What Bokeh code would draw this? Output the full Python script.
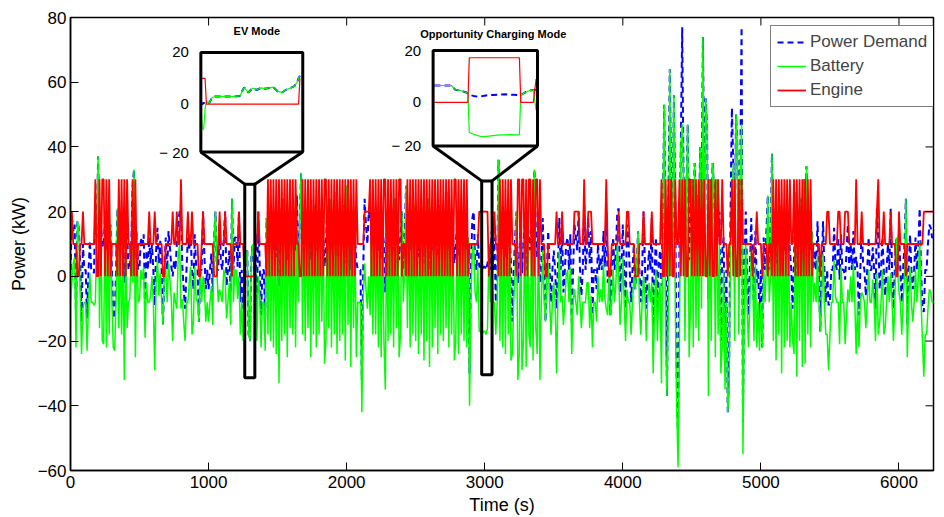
import math

from bokeh.plotting import figure
from bokeh.models import Range1d, Legend, LegendItem
from bokeh.core.properties import value
from bokeh.embed import file_html
from bokeh.resources import INLINE

FONT = "Liberation Sans"

# ---- main drive cycle, one sample every 10 s (0 .. 6250 s) ----
sample_s = 10

engine_kw = [
    10, 20, 10, 10, 10, 0, 0, 10, 10, 20,       # 0
    10, 10, 10, 10, 10, 10, 10, 10, 30, 0,      # 100
    0, 30, 0, 30, 30, 0, 30, 0, 30, 0,          # 200
    10, 10, 10, 10, 0, 30, 0, 30, 0, 30,        # 300
    0, 30, 10, 10, 0, 30, 0, 30, 0, 10,         # 400
    10, 10, 10, 10, 10, 10, 10, 20, 10, 10,     # 500
    10, 20, 10, 10, 10, 10, 10, 0, 0, 10,       # 600
    10, 10, 10, 10, 20, 10, 10, 20, 10, 10,     # 700
    30, 10, 10, 10, 10, 20, 10, 10, 20, 10,     # 800
    10, 10, 10, 0, 0, 10, 20, 10, 10, 10,       # 900
    10, 10, 10, 10, 0, 0, 0, 10, 20, 10,        # 1000
    10, 10, 20, 10, 10, 10, 10, 0, 10, 10,      # 1100
    10, 10, 20, 10, 10, 10, 0, 0, 0, 0,         # 1200
    0, 0, 0, 0, 10, 10, 20, 10, 10, 10,         # 1300
    10, 10, 0, 30, 0, 30, 0, 30, 0, 30,         # 1400
    0, 30, 0, 30, 0, 30, 0, 30, 0, 30,          # 1500
    0, 30, 0, 30, 10, 10, 0, 0, 30, 0,          # 1600
    30, 0, 30, 0, 30, 0, 30, 0, 30, 0,          # 1700
    30, 0, 30, 0, 30, 30, 0, 30, 0, 30,         # 1800
    0, 30, 0, 30, 0, 30, 0, 30, 0, 30,          # 1900
    0, 30, 0, 30, 0, 30, 0, 30, 10, 10,         # 2000
    10, 10, 10, 20, 20, 20, 20, 30, 0, 30,      # 2100
    0, 30, 0, 30, 0, 30, 0, 30, 30, 0,          # 2200
    30, 0, 30, 0, 30, 0, 30, 0, 30, 30,         # 2300
    0, 10, 10, 0, 30, 0, 30, 0, 30, 0,          # 2400
    30, 0, 30, 0, 30, 0, 30, 0, 30, 0,          # 2500
    30, 0, 30, 0, 30, 0, 30, 0, 30, 0,          # 2600
    30, 0, 30, 0, 30, 0, 30, 0, 30, 30,         # 2700
    0, 30, 0, 30, 0, 30, 0, 30, 0, 10,          # 2800
    10, 10, 10, 10, 10, 10, 20, 20, 20, 20,     # 2900
    20, 20, 20, 0, 10, 10, 10, 20, 10, 10,      # 3000
    0, 30, 0, 30, 0, 30, 0, 30, 0, 30,          # 3100
    10, 10, 10, 0, 30, 30, 0, 30, 30, 0,        # 3200
    30, 0, 30, 30, 0, 30, 0, 30, 30, 0,         # 3300
    30, 10, 10, 10, 0, 0, 10, 10, 10, 10,       # 3400
    10, 10, 20, 10, 10, 10, 20, 10, 10, 10,     # 3500
    10, 10, 10, 10, 10, 20, 20, 20, 20, 10,     # 3600
    10, 10, 30, 10, 10, 20, 20, 20, 10, 10,     # 3700
    10, 10, 10, 10, 10, 10, 10, 10, 30, 10,     # 3800
    0, 0, 10, 10, 10, 10, 10, 20, 10, 10,       # 3900
    10, 10, 10, 20, 20, 10, 10, 10, 10, 0,      # 4000
    0, 0, 10, 10, 10, 20, 10, 10, 10, 10,       # 4100
    10, 20, 10, 10, 10, 10, 10, 10, 30, 0,      # 4200
    0, 30, 0, 30, 0, 30, 0, 0, 30, 10,          # 4300
    10, 30, 0, 30, 0, 30, 0, 0, 30, 30,         # 4400
    0, 30, 0, 30, 0, 30, 0, 30, 0, 30,          # 4500
    0, 0, 30, 0, 30, 0, 0, 30, 0, 30,           # 4600
    10, 10, 30, 10, 10, 10, 0, 10, 10, 30,      # 4700
    0, 30, 0, 0, 30, 0, 30, 10, 10, 10,         # 4800
    10, 10, 10, 10, 0, 10, 10, 20, 10, 10,      # 4900
    10, 0, 10, 10, 10, 0, 10, 10, 0, 30,        # 5000
    0, 30, 0, 30, 0, 30, 0, 30, 0, 30,          # 5100
    0, 30, 10, 10, 30, 0, 30, 0, 30, 0,         # 5200
    30, 0, 30, 0, 30, 0, 30, 0, 10, 10,         # 5300
    10, 10, 10, 0, 10, 10, 10, 10, 20, 20,      # 5400
    10, 10, 10, 10, 10, 10, 20, 20, 10, 10,     # 5500
    10, 20, 20, 20, 10, 10, 10, 10, 10, 30,     # 5600
    10, 10, 10, 20, 10, 10, 10, 10, 10, 10,     # 5700
    10, 10, 10, 10, 20, 30, 10, 10, 10, 20,     # 5800
    10, 10, 10, 10, 20, 10, 10, 10, 0, 0,       # 5900
    20, 10, 10, 10, 10, 0, 10, 10, 10, 10,      # 6000
    10, 10, 10, 10, 10, 10, 10, 10, 20, 20,     # 6100
    20, 20, 20, 20, 20, 20,                     # 6200
]

demand_kw = [
    2, 18, 14, 16, -12, 17, 15, 5, -14, 10,     # 0
    2, 2, -13, 1, 11, 2, 2, 1, 22, 12,          # 100
    37, 14, 16, 10, 9, 18, 8, 15, 12, 16,       # 200
    2, -12, -13, 2, 21, 14, 10, 12, 8, -2,      # 300
    12, 14, 2, 3, 10, 28, 33, 5, 14, 2,         # 400
    3, 12, 9, 13, -9, 8, 2, 12, 4, 10,          # 500
    2, -9, 8, 15, 4, 11, 2, -15, 2, 12,         # 600
    2, 14, 9, 3, 0, 5, 2, 10, 16, 20,           # 700
    20, 3, -4, -10, 2, 12, 8, 13, 2, -4,        # 800
    13, 3, 2, -14, 2, 2, 20, 6, -4, 2,          # 900
    -4, 2, 7, -5, 12, 20, 2, 2, 16, 4,          # 1000
    2, 12, 20, -3, 2, 8, -5, 24, 2, 12,         # 1100
    12, 3, 20, -8, 2, -10, 2, 5, 8, -18,        # 1200
    -20, 6, 10, 2, 13, -10, 20, 4, -12, 2,      # 1300
    2, -13, 18, 12, 20, 10, 15, 8, 14, 6,       # 1400
    15, -3, 12, 10, 24, 12, 18, 5, 20, 14,      # 1500
    10, 12, 18, 8, 25, 2, 16, 32, 12, 20,       # 1600
    10, 18, 14, 20, 5, 16, 12, 22, 8, 15,       # 1700
    12, 20, 16, 14, 3, 10, 22, 14, 24, 8,       # 1800
    16, 12, 26, 6, 14, 10, 18, 12, 22, 4,       # 1900
    28, 15, 16, 2, 20, 14, 12, 5, 2, 2,         # 2000
    2, -32, 2, 24, 16, 10, 20, 18, 16, 12,      # 2100
    18, 12, 14, 8, 20, 5, 15, 10, -5, 16,       # 2200
    10, 22, 12, 16, 8, 24, 14, 18, 5, 12,       # 2300
    20, 2, 12, 28, 14, 20, 8, 16, 12, 22,       # 2400
    10, 18, 6, 14, 12, 20, 4, 16, 10, 24,       # 2500
    2, 20, 8, 18, 14, 16, 6, 22, 12, 14,        # 2600
    10, 18, 14, 26, 8, 16, 12, 14, 4, 10,       # 2700
    16, 6, 20, 12, 14, 10, 18, 8, 12, -30,      # 2800
    2, 18, 20, 5, 2, 13, 3, 3, 2, 3,            # 2900
    3, 2, 4, 6, 2, 14, 2, 12, -8, 2,            # 3000
    36, 10, 14, 8, 16, 6, 20, 12, 14, 4,        # 3100
    -14, 2, 12, 20, -2, 6, 18, 1, 10, 18,       # 3200
    2, 16, 12, 8, 20, 4, 33, 14, 6, 18,         # 3300
    -2, 2, 18, 2, -14, 2, 14, 2, -8, 2,         # 3400
    8, 2, -10, 3, 18, 2, 14, -5, 2, 10,         # 3500
    12, 2, 13, -14, 2, 16, 12, 8, 20, 2,        # 3600
    -6, 2, 22, 2, 8, 18, 4, 14, -12, 2,         # 3700
    2, -4, 10, 2, 6, 2, 14, 3, 20, -2,          # 3800
    2, -12, 2, 12, 2, 8, 20, 21, -5, 2,         # 3900
    16, 2, -10, 16, 12, 2, -8, 2, 10, -4,       # 4000
    2, 14, 2, -8, 2, 20, 4, -10, 2, 8,          # 4100
    2, 18, -20, 2, 12, -10, 4, 8, -3, 20,       # 4200
    53, 10, -37, 20, 64, 30, 12, 56, 20, -30,   # 4300
    -49, 10, 40, 77, 30, 10, 25, 47, 5, 20,     # 4400
    30, 8, 35, 14, 25, 10, 40, 20, 74, 30,      # 4500
    55, 46, -7, 30, 10, 35, 28, 5, 30, 12,      # 4600
    20, -20, 8, 12, -25, 2, -42, -26, 20, 52,   # 4700
    35, 10, 50, 40, 12, 30, 77, -45, 2, 20,     # 4800
    2, -12, 2, 18, 2, -10, 14, -2, 2, -13,      # 4900
    2, -22, 12, 2, 14, 25, 2, 10, 38, 10,       # 5000
    20, 4, 16, 12, 22, 0, 18, 8, 14, 10,        # 5100
    14, 8, 2, -10, 6, 26, -1, 20, 10, 24,       # 5200
    2, 30, 3, 34, 12, 17, 8, 14, 2, 8,          # 5300
    2, 17, 2, -17, 2, 17, 2, -8, 2, -9,         # 5400
    -8, 2, 2, 15, 4, 2, 12, -1, 13, 2,          # 5500
    2, -1, 8, 16, 2, 10, 2, 14, 2, 6,           # 5600
    2, -12, 2, 15, 4, 2, -6, 2, 12, 2,          # 5700
    2, 9, 2, -10, 21, 12, -4, 2, 12, 2,         # 5800
    -6, 2, 10, 2, 21, 2, -10, 2, 12, 2,         # 5900
    15, 2, -8, 2, 10, 24, -15, 2, 13, 2,        # 6000
    -4, 2, 12, 2, 10, 21, 2, -10, -11, 2,       # 6100
    2, 10, 16, 15, 12, 12,                      # 6200
]

time_s = [i * sample_s for i in range(len(demand_kw))]
# the battery supplies whatever the engine does not
battery_kw = [d - e for d, e in zip(demand_kw, engine_kw)]

# ---- zoomed windows ----
ev_t = [1262, 1263, 1264, 1265, 1266, 1268, 1270, 1272, 1274, 1278, 1282, 1286, 1290, 1293, 1296,
        1299, 1302, 1305, 1308, 1311, 1314, 1317, 1320, 1323, 1326, 1329, 1331, 1332, 1333]
ev_demand = [1, 0, 0.5, 0.5, 1, 0.5, 2.5, 3, 3, 3, 3, 3, 3.2, 6.5, 4.5,
             6.2, 5.5, 6.3, 6, 6.3, 6.6, 5, 4.5, 5.6, 6.2, 7, 8.5, 10, 11]
ev_battery = [0, -9.5, -9.7, -2, 1, 0.5, 2.5, 3, 3, 3, 3, 3, 3.2, 6.5, 4.5,
              6.2, 5.5, 6.3, 6, 6.3, 6.6, 5, 4.5, 5.6, 6.2, 7, 8.5, 10, 11]
ev_engine = [10, 10, 10, 10, 0, 0, 0, 0, 0, 0, 0, 0, 0, 0, 0,
             0, 0, 0, 0, 0, 0, 0, 0, 0, 0, 0, 0, 0, 10]

ocm_t = [2979, 2985, 2991, 2994, 2998, 3002, 3003, 3004, 3007, 3010, 3013, 3015, 3018,
         3021, 3024, 3027, 3030, 3033, 3036, 3039, 3040, 3041, 3044, 3047, 3050, 3052]
ocm_demand = [6.5, 6.5, 6.5, 4.9, 4.5, 3.8, 3.5, 2.9, 2.5, 2.2, 2.4, 2.6, 2.8,
              2.8, 2.9, 3.0, 3.1, 3.0, 2.9, 2.8, 2.7, 2.8, 3.8, 4.5, 4.8, 4.9]
ocm_battery = [6.5, 6.5, 6.5, 4.9, 4.5, 3.8, 3.5, -11.6, -12.3, -12.8, -13.2, -13.2, -13.0,
               -12.8, -12.6, -12.5, -12.5, -12.4, -12.5, -12.5, -12.5, 2.8, 3.8, 4.5, 4.8, -3]
ocm_engine = [0, 0, 0, 0, 0, 0, 0, 17.2, 17.2, 17.2, 17.2, 17.2, 17.2,
              17.2, 17.2, 17.2, 17.2, 17.2, 17.2, 17.2, 17.2, 0, 0, 0, 0, 9]

# highlighted windows on the main axes, and where their insets sit
ev_window_s, ev_window_kw = [1262, 1335], [-31.3, 28.5]
ocm_window_s, ocm_window_kw = [2978, 3053], [-30.4, 29.5]
ev_box_s, ev_box_kw = [944, 1682], [38.4, 69.2]
ocm_box_s, ocm_box_kw = [2626, 3382], [40.3, 69.8]
ev_lim_kw = [-18.5, 20]
ocm_lim_kw = [-16.8, 20]

x_ticks = [0, 1000, 2000, 3000, 4000, 5000, 6000]
y_ticks = [-60, -40, -20, 0, 20, 40, 60, 80]
x_lim = (0, 6250)
y_lim = (-60, 80)

BLUE, GREEN, RED = "#0000ff", "#00ff00", "#ff0000"

p = figure(width=944, height=517, x_range=Range1d(*x_lim), y_range=Range1d(*y_lim),
           output_backend="svg", toolbar_location=None,
           min_border_left=70, min_border_right=11, min_border_top=17, min_border_bottom=38)
p.xgrid.visible = False
p.ygrid.visible = False
p.outline_line_color = "black"
p.outline_line_width = 1.5
p.background_fill_color = "white"
p.border_fill_color = "white"

p.xaxis.ticker = x_ticks
p.yaxis.ticker = y_ticks
p.yaxis.major_label_overrides = {-60: "\u221260", -40: "\u221240", -20: "\u221220"}
p.xaxis.axis_label = "Time (s)"
p.yaxis.axis_label = "Power (kW)"
for ax in (p.xaxis, p.yaxis):
    ax.major_tick_in = 8
    ax.major_tick_out = 0
    ax.minor_tick_in = 0
    ax.minor_tick_out = 0
    ax.axis_line_width = 1.5
    ax.major_tick_line_width = 1
    ax.major_label_text_font = FONT
    ax.major_label_text_font_size = "17px"
    ax.major_label_text_color = "black"
    ax.axis_label_text_font = FONT
    ax.axis_label_text_font_size = "18px"
    ax.axis_label_text_font_style = "normal"
    ax.axis_label_text_color = "black"
p.xaxis.major_label_standoff = 5
p.xaxis.axis_label_standoff = 4
p.yaxis.major_label_standoff = 4
p.yaxis.axis_label_standoff = 6

r_dem = p.line(time_s, demand_kw, line_color=BLUE, line_width=2, line_dash="6 4")
r_bat = p.line(time_s, battery_kw, line_color=GREEN, line_width=1.5)
r_eng = p.line(time_s, engine_kw, line_color=RED, line_width=1.8)

# tick marks on the top and right edges of the box
p.ray(x=x_ticks, y=[y_lim[1]] * len(x_ticks), length=8, length_units="screen",
      angle=-math.pi / 2, line_color="black", line_width=1)
p.ray(x=[x_lim[1]] * len(y_ticks), y=y_ticks, length=8, length_units="screen",
      angle=math.pi, line_color="black", line_width=1)


def inset_range(lo, hi, box_lo, box_hi, full_lo, full_hi):
    k = (hi - lo) / (box_hi - box_lo)
    return Range1d(lo + (full_lo - box_lo) * k, lo + (full_hi - box_lo) * k)


def add_inset(name, window_s, window_kw, box_s, box_kw, lim_kw, t, dem, bat, eng, title, title_dx, title_dy):
    # window on the main axes and the funnel up to the inset
    p.quad(left=[window_s[0]], right=[window_s[1]], bottom=[window_kw[0]], top=[window_kw[1]],
           fill_color=None, line_color="black", line_width=3)
    p.segment(x0=[box_s[0], box_s[1]], y0=[box_kw[0], box_kw[0]],
              x1=[window_s[0], window_s[1]], y1=[window_kw[1], window_kw[1]],
              line_color="black", line_width=3)

    p.extra_x_ranges[name + "_x"] = inset_range(window_s[0], window_s[1], box_s[0], box_s[1], *x_lim)
    p.extra_y_ranges[name + "_y"] = inset_range(lim_kw[0], lim_kw[1], box_kw[0], box_kw[1], *y_lim)
    kw = dict(x_range_name=name + "_x", y_range_name=name + "_y")

    p.quad(left=[window_s[0]], right=[window_s[1]], bottom=[lim_kw[0]], top=[lim_kw[1]],
           fill_color="white", line_color=None, **kw)
    p.line(t, dem, line_color=BLUE, line_width=2, line_dash="6 4", **kw)
    p.line(t, bat, line_color=GREEN, line_width=1.2, **kw)
    p.line(t, eng, line_color=RED, line_width=1.2, **kw)
    p.quad(left=[window_s[0]], right=[window_s[1]], bottom=[lim_kw[0]], top=[lim_kw[1]],
           fill_color=None, line_color="black", line_width=3, **kw)
    p.text(x=[window_s[0]] * 3, y=[20, 0, lim_kw[0]], text=["20", "0", "\u2212 20"],
           x_offset=-12, text_align="right", text_baseline="middle",
           text_font=value(FONT), text_font_size="15px", text_color="black", **kw)
    p.text(x=[(box_s[0] + box_s[1]) / 2], y=[box_kw[1]], text=[title],
           x_offset=title_dx, y_offset=title_dy, text_align="center", text_baseline="middle",
           text_font=value(FONT), text_font_size="11px", text_font_style="bold", text_color="black")


add_inset("ev", ev_window_s, ev_window_kw, ev_box_s, ev_box_kw, ev_lim_kw,
          ev_t, ev_demand, ev_battery, ev_engine, "EV Mode", 5, -21)
add_inset("ocm", ocm_window_s, ocm_window_kw, ocm_box_s, ocm_box_kw, ocm_lim_kw,
          ocm_t, ocm_demand, ocm_battery, ocm_engine, "Opportunity Charging Mode", 8, -17)

legend = Legend(items=[LegendItem(label="Power Demand", renderers=[r_dem]),
                       LegendItem(label="Battery", renderers=[r_bat]),
                       LegendItem(label="Engine", renderers=[r_eng])],
                location=(700, 363), label_text_font=FONT, label_text_font_size="17px",
                glyph_width=29, glyph_height=20, label_height=20, spacing=4, padding=6,
                margin=0, label_standoff=4, border_line_color="black", border_line_width=1.5,
                background_fill_color="white", background_fill_alpha=1)
p.add_layout(legend)

open("out.html", "w").write(file_html(p, INLINE))
